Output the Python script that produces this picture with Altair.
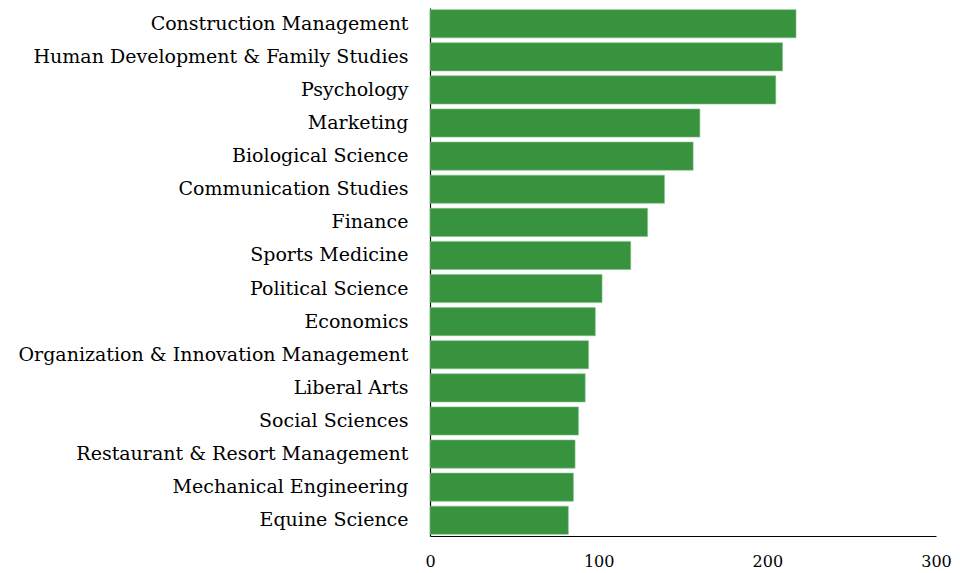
import altair as alt
import pandas as pd

majors = [
    "Construction Management",
    "Human Development & Family Studies",
    "Psychology",
    "Marketing",
    "Biological Science",
    "Communication Studies",
    "Finance",
    "Sports Medicine",
    "Political Science",
    "Economics",
    "Organization & Innovation Management",
    "Liberal Arts",
    "Social Sciences",
    "Restaurant & Resort Management",
    "Mechanical Engineering",
    "Equine Science",
]
counts = [217, 209, 205, 160, 156, 139, 129, 119, 102, 98, 94, 92, 88, 86, 85, 82]
x_ticks = [0, 100, 200, 300]

df = pd.DataFrame({"major": majors, "count": counts})

font = "DejaVu Serif"

chart = (
    alt.Chart(df)
    .mark_bar(color="#38933e", stroke="#7fbf84", strokeWidth=0.6)
    .encode(
        x=alt.X(
            "count:Q",
            scale=alt.Scale(domain=[0, 300], nice=False),
            axis=alt.Axis(
                values=x_ticks,
                title=None,
                grid=False,
                ticks=False,
                domainColor="#000000",
                domainWidth=1.2,
                labelFont=font,
                labelFontSize=16,
                labelColor="#000000",
                labelPadding=17,
                labelFlush=False,
            ),
        ),
        y=alt.Y(
            "major:N",
            sort=majors,
            scale=alt.Scale(paddingInner=0.15, paddingOuter=0.05),
            axis=alt.Axis(
                title=None,
                ticks=False,
                grid=False,
                domainColor="#000000",
                domainWidth=1.2,
                labelFont=font,
                labelFontSize=19,
                labelColor="#000000",
                labelPadding=22,
                labelLimit=500,
            ),
        ),
    )
    .properties(
        width=944,
        height=528,
        padding={"left": 10, "top": 0, "right": 0, "bottom": 0},
        autosize=alt.AutoSizeParams(type="fit-x", contains="padding"),
    )
    .configure_view(strokeWidth=0, stroke="transparent")
)

chart.save("out.html", embed_options={"renderer": "svg", "actions": False})
